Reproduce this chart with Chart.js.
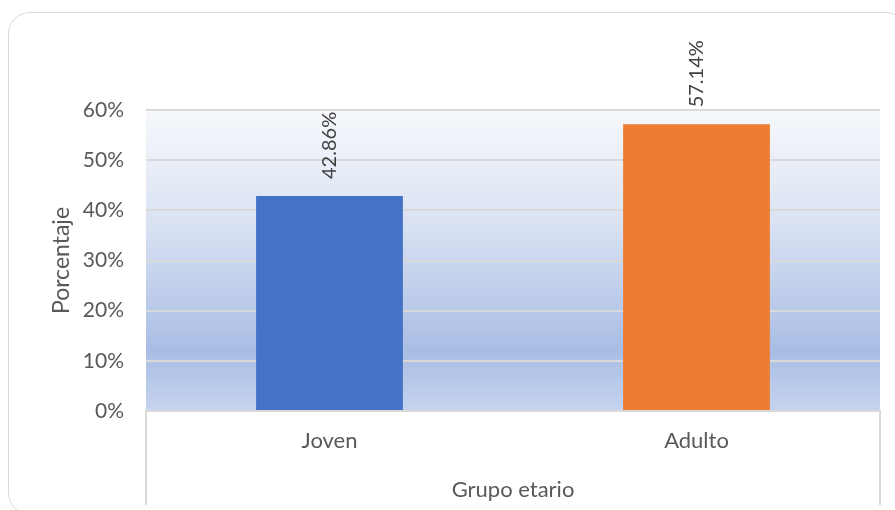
<!DOCTYPE html>
<html>
<head>
<meta charset="utf-8">
<script src="https://cdn.jsdelivr.net/npm/chart.js@4.4.1/dist/chart.umd.min.js"></script>
<style>
  html, body { margin: 0; padding: 0; background: #fff; overflow: hidden; }
  #frame {
    position: absolute; left: 8px; top: 12px; width: 900px; height: 503px;
    border: 1.5px solid #d9d9d9; border-radius: 22px; box-sizing: border-box;
  }
  #grafico { position: absolute; left: 0; top: 0; }
</style>
</head>
<body>
<div id="frame"></div>
<canvas id="grafico" width="895" height="510"></canvas>
<script>
// datos del grafico
var categorias = ['Joven', 'Adulto'];
var porcentajes = [0.4286, 0.5714];
var etiquetas = ['42.86%', '57.14%'];
var colores = ['#4472c4', '#ed7d31'];
var ticksY = [0, 0.1, 0.2, 0.3, 0.4, 0.5, 0.6];

var fuente = 'Lato, "Open Sans", sans-serif';

// fondo degradado del area de trazado
var fondo = {
  id: 'fondo',
  beforeDraw: function(chart){
    var a = chart.chartArea, ctx = chart.ctx;
    var g = ctx.createLinearGradient(0, a.top, 0, a.bottom);
    g.addColorStop(0, '#f6f8fc');
    g.addColorStop(0.35, '#dce4f3');
    g.addColorStop(0.8, '#a9bde4');
    g.addColorStop(1, '#c5d4ee');
    ctx.save();
    ctx.fillStyle = g;
    ctx.fillRect(a.left, a.top, a.right - a.left, a.bottom - a.top);
    ctx.restore();
  }
};

// lineas verticales bajo el eje x y etiquetas de datos giradas
var extras = {
  id: 'extras',
  afterDraw: function(chart){
    var a = chart.chartArea, ctx = chart.ctx;
    ctx.save();
    ctx.strokeStyle = '#d9d9d9';
    ctx.lineWidth = 2;
    ctx.beginPath();
    ctx.moveTo(a.left, a.bottom); ctx.lineTo(a.left, 505);
    ctx.moveTo(a.right, a.bottom); ctx.lineTo(a.right, 505);
    ctx.stroke();

    var meta = chart.getDatasetMeta(0);
    ctx.fillStyle = '#404040';
    ctx.font = '20px ' + fuente;
    ctx.textAlign = 'left';
    ctx.textBaseline = 'middle';
    meta.data.forEach(function(bar, i){
      ctx.save();
      ctx.translate(bar.x, bar.y - 17);
      ctx.rotate(-Math.PI / 2);
      ctx.fillText(etiquetas[i], 0, 0);
      ctx.restore();
    });
    ctx.restore();
  }
};

new Chart(document.getElementById('grafico'), {
  type: 'bar',
  data: {
    labels: categorias,
    datasets: [{
      data: porcentajes,
      backgroundColor: colores,
      borderWidth: 0,
      categoryPercentage: 0.4,
      barPercentage: 1
    }]
  },
  options: {
    responsive: false,
    animation: false,
    layout: { padding: { top: 110, right: 15, left: 0, bottom: 0 } },
    plugins: { legend: { display: false }, tooltip: { enabled: false } },
    scales: {
      y: {
        min: 0, max: 0.6,
        afterFit: function(s){ s.width = 146; },
        afterBuildTicks: function(s){
          s.ticks = ticksY.map(function(v){ return { value: v }; });
        },
        ticks: {
          padding: 22, color: '#595959',
          font: { family: fuente, size: 21 },
          callback: function(v){ return Math.round(v * 100) + '%'; }
        },
        grid: { color: '#d9d9d9', lineWidth: 2, drawTicks: false },
        border: { display: false },
        title: {
          display: true, text: 'Porcentaje', color: '#595959',
          font: { family: fuente, size: 23 },
          padding: { top: 48, bottom: 0 }
        }
      },
      x: {
        afterFit: function(s){ s.height = 99; },
        ticks: {
          padding: 17, color: '#595959',
          font: { family: fuente, size: 22 }
        },
        grid: { display: false, drawTicks: false },
        border: { display: true, color: '#d9d9d9', width: 2 },
        title: {
          display: true, text: 'Grupo etario', color: '#595959',
          font: { family: fuente, size: 22 },
          padding: { top: 0, bottom: 7 }
        }
      }
    }
  },
  plugins: [fondo, extras]
});
</script>
</body>
</html>
